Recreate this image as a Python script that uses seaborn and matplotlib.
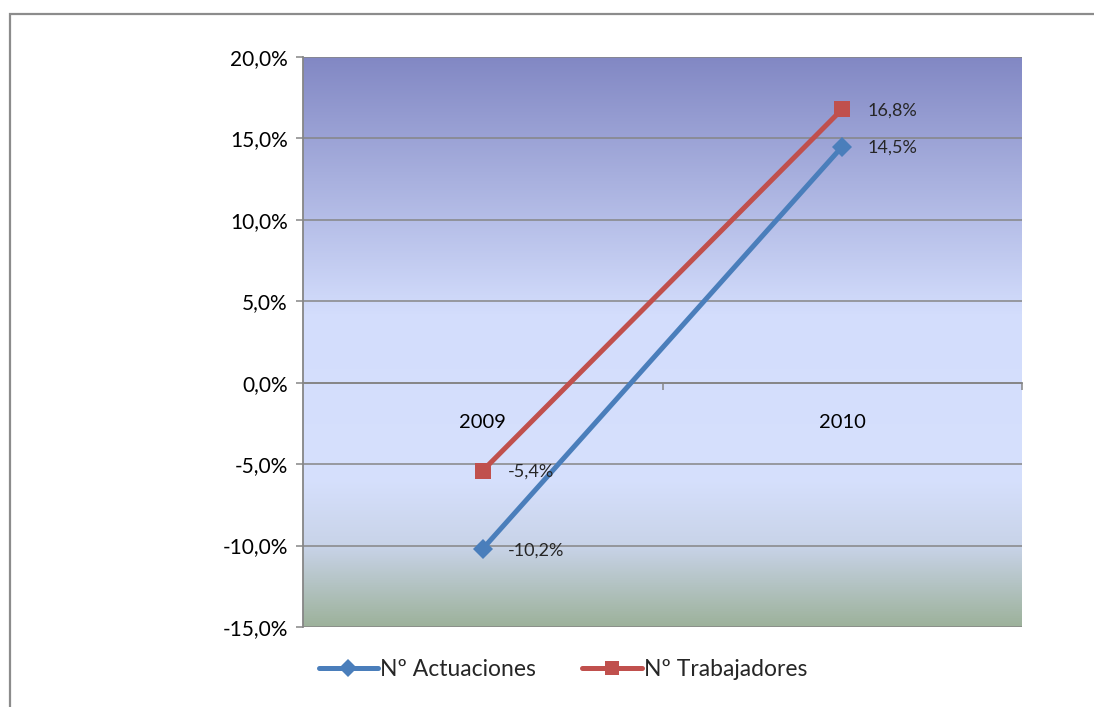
import numpy as np
import pandas as pd
import matplotlib.pyplot as plt
import matplotlib.patches as mpatches
from matplotlib.colors import LinearSegmentedColormap
from matplotlib.ticker import FuncFormatter
import seaborn as sns

# datos de la figura
years = ['2009', '2010']
actuaciones = [-10.2, 14.5]
trabajadores = [-5.4, 16.8]
series_names = ['Nº Actuaciones', 'Nº Trabajadores']

df = pd.DataFrame({
    'Año': years * 2,
    'Valor': actuaciones + trabajadores,
    'Serie': [series_names[0]] * 2 + [series_names[1]] * 2,
})

sns.set_style('white')
plt.rcParams['font.family'] = ['Lato', 'DejaVu Sans']

fig = plt.figure(figsize=(10.94, 7.07), dpi=100)
ax = fig.add_axes([303 / 1094, 1 - 627 / 707, 719 / 1094, 570 / 707])

# marco exterior
fig.patches.append(mpatches.Rectangle((10 / 1094, -0.1), 1.2, 1 - 14 / 707 + 0.1,
                                      transform=fig.transFigure, fill=False,
                                      edgecolor='#8c8c8c', linewidth=1.6))

# fondo degradado del área de trazado
grad = LinearSegmentedColormap.from_list('fondo', [
    (0.00, (157 / 255, 178 / 255, 155 / 255)),
    (0.14, (200 / 255, 211 / 255, 232 / 255)),
    (0.26, (214 / 255, 224 / 255, 253 / 255)),
    (0.55, (211 / 255, 221 / 255, 252 / 255)),
    (1.00, (130 / 255, 136 / 255, 196 / 255)),
])
ax.imshow(np.linspace(0, 1, 256).reshape(-1, 1), cmap=grad, origin='lower',
          extent=[0, 1, 0, 1], transform=ax.transAxes, aspect='auto', zorder=0)

palette = {series_names[0]: '#4a7ebb', series_names[1]: '#c0504d'}
markers = {series_names[0]: 'D', series_names[1]: 's'}
sns.lineplot(data=df, x='Año', y='Valor', hue='Serie', style='Serie',
             palette=palette, markers=markers, dashes=False, linewidth=3.6,
             markersize=12, markeredgewidth=0, ax=ax, zorder=3)
# rombo algo más pequeño
ax.lines[0].set_markersize(10.5)

ax.set_xlim(-0.5, 1.5)
ax.set_ylim(-15, 20)
ax.set_yticks(np.arange(-15, 21, 5))
ax.yaxis.set_major_formatter(FuncFormatter(lambda v, p: f'{v:.1f}%'.replace('.', ',')))
ax.grid(axis='y', color='#868686', linewidth=1.1, zorder=1)
ax.set_axisbelow(True)
ax.set_xlabel('')
ax.set_ylabel('')

for s in ['top', 'right']:
    ax.spines[s].set_visible(False)
ax.spines['left'].set_color('#868686')
ax.spines['left'].set_linewidth(1.3)
ax.spines['bottom'].set_position(('data', 0))
ax.spines['bottom'].set_color('#868686')
ax.spines['bottom'].set_linewidth(1.3)

ax.tick_params(axis='y', left=True, length=5, width=1.1, color='#868686',
               labelsize=15, pad=6, labelcolor='black')
ax.tick_params(axis='x', bottom=False, labelsize=14.5, pad=19, labelcolor='black')
ax.set_xticks([0.5, 1.5], minor=True)
ax.tick_params(axis='x', which='minor', bottom=True, length=5, width=1.1,
               color='#868686')

# etiquetas de datos
for vals in [actuaciones, trabajadores]:
    for i, v in enumerate(vals):
        ax.annotate(f'{v:.1f}%'.replace('.', ','), (i, v), xytext=(18, -1),
                    textcoords='offset points', ha='left', va='center',
                    fontsize=13, zorder=4)

sns.move_legend(ax, 'center', bbox_to_anchor=(563 / 1094, 1 - 670 / 707),
                bbox_transform=fig.transFigure, ncol=2, frameon=False,
                title=None, fontsize=16.5, handlelength=2.6, handletextpad=0.1,
                columnspacing=2.0)
for h in ax.get_legend().legend_handles:
    h.set_markersize(9.5)

fig.savefig('out.png', dpi=100)
